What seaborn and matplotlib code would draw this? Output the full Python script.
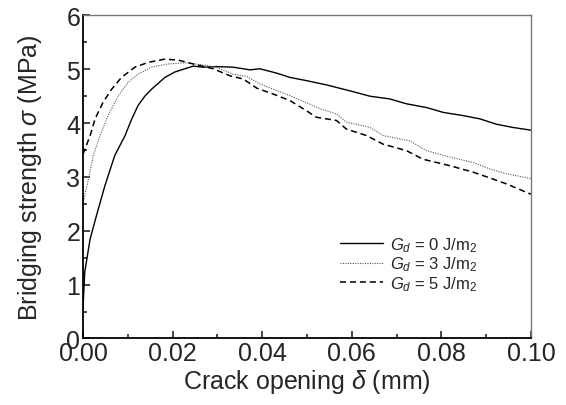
import matplotlib
matplotlib.use("Agg")
import matplotlib.pyplot as plt
import seaborn as sns
import pandas as pd
from matplotlib.ticker import MultipleLocator, FormatStrFormatter

sns.set_style("ticks")
plt.rcParams['font.family'] = ['Liberation Sans', 'DejaVu Sans']
plt.rcParams['mathtext.fontset'] = 'custom'
plt.rcParams['mathtext.rm'] = 'Liberation Sans'
plt.rcParams['mathtext.it'] = 'Liberation Sans:italic'

# Gd = 0 J/m2 (solid)
d0 = [0.0, 0.0004, 0.0016, 0.003, 0.0049, 0.0071, 0.0094, 0.0108, 0.0123, 0.0138, 0.0153, 0.0183,
      0.0205, 0.0246, 0.0268, 0.0298, 0.0335, 0.0373, 0.0395, 0.0432, 0.0462, 0.0499,
      0.0544, 0.0596, 0.0641, 0.0685, 0.0722, 0.0767, 0.0804, 0.0849, 0.0886, 0.0923,
      0.096, 0.1]
s0 = [0.55, 1.24, 1.85, 2.28, 2.84, 3.40, 3.77, 4.06, 4.33, 4.50, 4.63, 4.85,
      4.95, 5.06, 5.04, 5.05, 5.04, 4.99, 5.01, 4.93, 4.85, 4.79,
      4.71, 4.60, 4.50, 4.45, 4.36, 4.29, 4.20, 4.14, 4.08, 3.98,
      3.92, 3.87]

# Gd = 3 J/m2 (dotted)
d3 = [0.0, 0.0012, 0.0023, 0.0038, 0.0056, 0.0079, 0.0101, 0.0123, 0.0153, 0.019,
      0.0228, 0.025, 0.0268, 0.0298, 0.0335, 0.0365, 0.0395, 0.0425, 0.0462, 0.0499,
      0.0529, 0.0566, 0.0588, 0.0641, 0.067, 0.073, 0.0767, 0.0819, 0.0871, 0.0908,
      0.0946, 0.1]
s3 = [2.5, 2.96, 3.40, 3.77, 4.14, 4.51, 4.76, 4.91, 5.04, 5.10,
      5.12, 5.10, 5.08, 5.04, 4.91, 4.87, 4.73, 4.63, 4.51, 4.38,
      4.27, 4.17, 4.02, 3.92, 3.77, 3.67, 3.49, 3.37, 3.27, 3.15,
      3.06, 2.97]

# Gd = 5 J/m2 (dashed)
d5 = [0.0, 0.0016, 0.0027, 0.0045, 0.0064, 0.0086, 0.0116, 0.0146, 0.0183, 0.0213,
      0.0246, 0.0291, 0.0328, 0.0358, 0.0388, 0.0425, 0.0462, 0.0499, 0.0521, 0.0566,
      0.0588, 0.0633, 0.067, 0.0722, 0.0759, 0.0819, 0.0871, 0.0916, 0.0946, 0.1]
s5 = [3.42, 3.77, 4.08, 4.39, 4.63, 4.85, 5.04, 5.13, 5.19, 5.17,
      5.10, 5.01, 4.88, 4.82, 4.65, 4.54, 4.42, 4.23, 4.11, 4.05,
      3.89, 3.77, 3.61, 3.49, 3.33, 3.21, 3.09, 2.96, 2.87, 2.68]

labels = [r'$G_d$ = 0 J/m$_2$', r'$G_d$ = 3 J/m$_2$', r'$G_d$ = 5 J/m$_2$']

fig = plt.figure(figsize=(5.66, 4.06), dpi=100)
ax = fig.add_axes([0.1466, 0.1638, 0.7914, 0.7956])

sns.lineplot(x=d0, y=s0, ax=ax, color='black', lw=1.0, label=labels[0])
sns.lineplot(x=d3, y=s3, ax=ax, color='#555555', lw=0.8, linestyle=(0, (1, 1.2)), label=labels[1])
sns.lineplot(x=d5, y=s5, ax=ax, color='black', lw=1.1, linestyle=(0, (4, 2.5)), label=labels[2])

ax.set_xlim(0, 0.1)
ax.set_ylim(0, 6)
ax.xaxis.set_major_locator(MultipleLocator(0.02))
ax.xaxis.set_minor_locator(MultipleLocator(0.01))
ax.xaxis.set_major_formatter(FormatStrFormatter('%.2f'))
ax.yaxis.set_major_locator(MultipleLocator(1))
ax.yaxis.set_minor_locator(MultipleLocator(0.5))
ax.tick_params(which='both', direction='in', top=False, right=False, labelsize=18, width=1.2)
ax.tick_params(which='major', length=5, pad=2)
ax.tick_params(which='minor', length=3)

for side in ['left', 'bottom']:
    ax.spines[side].set_linewidth(1.3)
    ax.spines[side].set_color('black')
for side in ['top', 'right']:
    ax.spines[side].set_linewidth(1.0)
    ax.spines[side].set_color('#777777')

ax.set_xlabel(r'Crack opening $\delta$ (mm)', fontsize=18, labelpad=1)
ax.set_ylabel(r'Bridging strength $\sigma$ (MPa)', fontsize=18, labelpad=16)

ax.legend(frameon=False, fontsize=12, loc='lower left', bbox_to_anchor=(0.54, 0.095),
          handlelength=2.6, handletextpad=0.4, labelspacing=0.05)

fig.savefig('out.png', dpi=100)
